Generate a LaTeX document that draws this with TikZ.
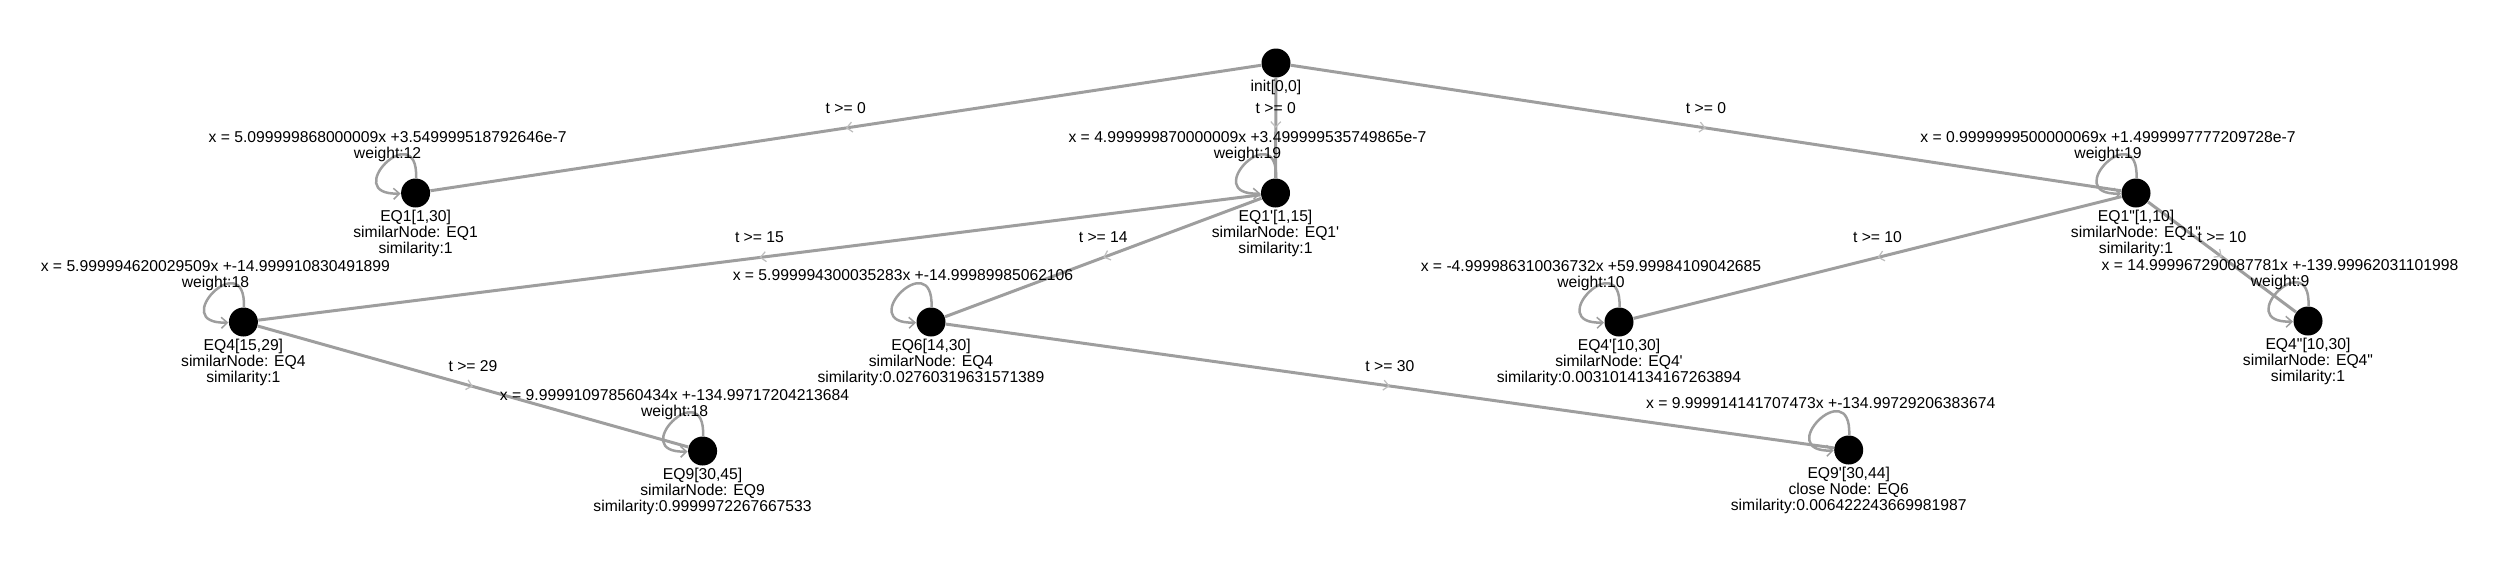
\documentclass[tikz,border=0pt]{standalone}
\usepackage{fontspec}
\setmainfont{Liberation Sans}[Ligatures=TeXOff]
\usetikzlibrary{arrows.meta,decorations.markings,positioning}

\definecolor{edgegray}{RGB}{158,158,158}
\definecolor{markgray}{RGB}{190,190,190}

\tikzset{
  eqnode/.style={circle, fill=black, inner sep=0pt, minimum size=11.6pt},
  infolbl/.style={align=center, inner sep=0pt, font=\fontsize{6.28}{6.32}\selectfont},
  looplbl/.style={infolbl, xshift=-11.2pt, yshift=18.6pt},
  guard/.style={midway, yshift=8pt, inner sep=0pt, font=\fontsize{6.28}{6.32}\selectfont},
  trans/.style={draw=edgegray, line width=1.2pt, postaction={decorate},
    decoration={markings, mark=at position 0.5 with {\arrow{Straight Barb[color=markgray,length=2.2pt,width=4pt,line width=0.5pt]}}}},
  selfloop/.style={draw=edgegray, line width=1pt,
    -{Straight Barb[length=2.4pt,width=4.4pt,line width=0.6pt]},
    out=88, in=182, looseness=1, min distance=25pt}
}

\begin{document}
\begin{tikzpicture}[x=0.4pt,y=-0.4pt]
\useasboundingbox (0,0) rectangle (2500,562);

%Shape: Circle
\node[eqnode] (init) at (1276,63) {};
\node[eqnode] (eq1) at (415.6,193) {};
\node[eqnode] (eq1p) at (1275.5,193) {};
\node[eqnode] (eq1pp) at (2136,193) {};
\node[eqnode] (eq4) at (243.4,322) {};
\node[eqnode] (eq6) at (931,322) {};
\node[eqnode] (eq4p) at (1619,322) {};
\node[eqnode] (eq4pp) at (2308,321) {};
\node[eqnode] (eq9) at (702.6,451) {};
\node[eqnode] (eq9p) at (1848.7,450) {};

%Straight Lines
\draw[trans] (init) -- node[guard] (g1) {t >= 0} (eq1);
\draw[trans] (init) -- node[guard] (g2) {t >= 0} (eq1p);
\draw[trans] (init) -- node[guard] (g3) {t >= 0} (eq1pp);
\draw[trans] (eq1p) -- node[guard] (g4) {t >= 15} (eq4);
\draw[trans] (eq1p) -- node[guard] (g5) {t >= 14} (eq6);
\draw[trans] (eq1pp) -- node[guard] (g6) {t >= 10} (eq4p);
\draw[trans] (eq1pp) -- node[guard] (g7) {t >= 10} (eq4pp);
\draw[trans] (eq4) -- node[guard] (g8) {t >= 29} (eq9);
\draw[trans] (eq6) -- node[guard] (g9) {t >= 30} (eq9p);

%Self loops
\draw[selfloop] (eq1) to (eq1);
\draw[selfloop] (eq1p) to (eq1p);
\draw[selfloop] (eq1pp) to (eq1pp);
\draw[selfloop] (eq4) to (eq4);
\draw[selfloop] (eq6) to (eq6);
\draw[selfloop] (eq4p) to (eq4p);
\draw[selfloop] (eq4pp) to (eq4pp);
\draw[selfloop] (eq9) to (eq9);
\draw[selfloop] (eq9p) to (eq9p);

% Text Node
\node[infolbl, below=0.7pt of init] (init-info) {init[0,0]};

% Text Node
\node[looplbl] (eq1-fit) at (eq1.center) {x = 5.099999868000009x +3.549999518792646e-7\\weight:12};
\node[infolbl, below=0.7pt of eq1] (eq1-info) {EQ1[1,30]\\similarNode: EQ1\\similarity:1};

% Text Node
\node[looplbl] (eq1p-fit) at (eq1p.center) {x = 4.999999870000009x +3.499999535749865e-7\\weight:19};
\node[infolbl, below=0.7pt of eq1p] (eq1p-info) {EQ1'[1,15]\\similarNode: EQ1'\\similarity:1};

% Text Node
\node[looplbl] (eq1pp-fit) at (eq1pp.center) {x = 0.9999999500000069x +1.4999997777209728e-7\\weight:19};
\node[infolbl, below=0.7pt of eq1pp] (eq1pp-info) {EQ1"[1,10]\\similarNode: EQ1"\\similarity:1};

% Text Node
\node[looplbl] (eq4-fit) at (eq4.center) {x = 5.999994620029509x +-14.999910830491899\\weight:18};
\node[infolbl, below=0.7pt of eq4] (eq4-info) {EQ4[15,29]\\similarNode: EQ4\\similarity:1};

% Text Node
\node[looplbl] (eq6-fit) at (eq6.center) {x = 5.999994300035283x +-14.99989985062106};
\node[infolbl, below=0.7pt of eq6] (eq6-info) {EQ6[14,30]\\similarNode: EQ4\\similarity:0.02760319631571389};

% Text Node
\node[looplbl] (eq4p-fit) at (eq4p.center) {x = -4.999986310036732x +59.99984109042685\\weight:10};
\node[infolbl, below=0.7pt of eq4p] (eq4p-info) {EQ4'[10,30]\\similarNode: EQ4'\\similarity:0.0031014134167263894};

% Text Node
\node[looplbl] (eq4pp-fit) at (eq4pp.center) {x = 14.999967290087781x +-139.99962031101998\\weight:9};
\node[infolbl, below=0.7pt of eq4pp] (eq4pp-info) {EQ4"[10,30]\\similarNode: EQ4"\\similarity:1};

% Text Node
\node[looplbl] (eq9-fit) at (eq9.center) {x = 9.999910978560434x +-134.99717204213684\\weight:18};
\node[infolbl, below=0.7pt of eq9] (eq9-info) {EQ9[30,45]\\similarNode: EQ9\\similarity:0.9999972267667533};

% Text Node
\node[looplbl] (eq9p-fit) at (eq9p.center) {x = 9.999914141707473x +-134.99729206383674};
\node[infolbl, below=0.7pt of eq9p] (eq9p-info) {EQ9'[30,44]\\close Node: EQ6\\similarity:0.006422243669981987};

\end{tikzpicture}
\end{document}
